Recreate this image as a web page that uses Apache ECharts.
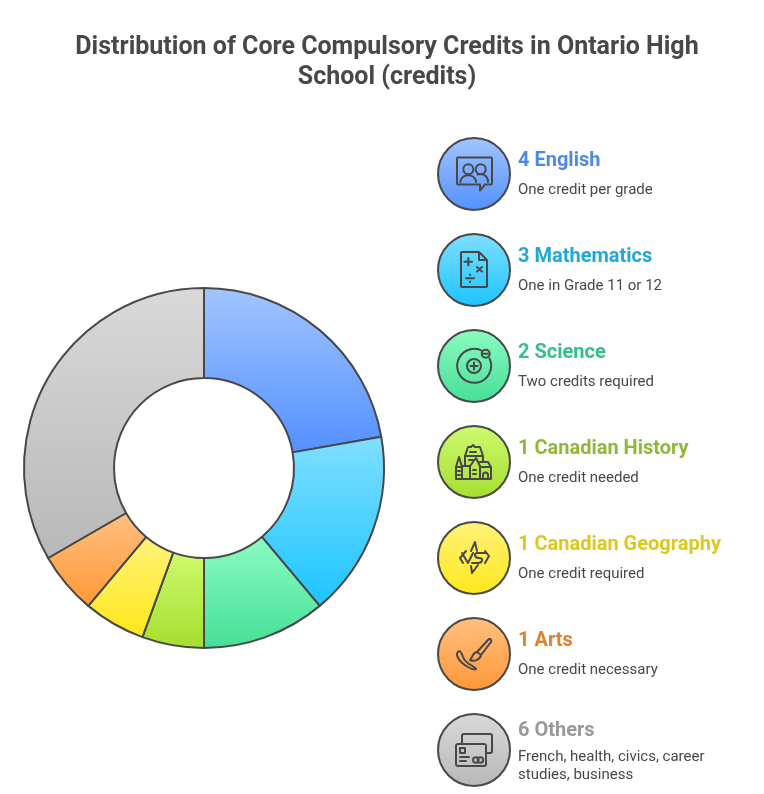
<!DOCTYPE html>
<html>
<head>
<meta charset="utf-8">
<style>
  html, body { margin: 0; padding: 0; background: #fff; }
  #chart { width: 764px; height: 794px; }
</style>
<script src="https://cdn.jsdelivr.net/npm/echarts@6/dist/echarts.min.js"></script>
</head>
<body>
<div id="chart"></div>
<script>
const chartTitle = "Distribution of Core Compulsory Credits in Ontario High\nSchool (credits)";
const subjects = ["English", "Mathematics", "Science", "Canadian History", "Canadian Geography", "Arts", "Others"];
const credits = [4, 3, 2, 1, 1, 1, 6];
const notes = [
  "One credit per grade",
  "One in Grade 11 or 12",
  "Two credits required",
  "One credit needed",
  "One credit required",
  "One credit necessary",
  "French, health, civics, career\nstudies, business"
];

const gradientTop = ["#a2c5ff", "#80dfff", "#8bfbc2", "#cffa6e", "#fff27a", "#ffc080", "#d9d9d9"];
const gradientBottom = ["#5390ff", "#1cc4ff", "#45df96", "#a4de2e", "#ffe81a", "#ff9838", "#b8b8b8"];
const labelColors = ["#4e88e8", "#1fa8d8", "#35c088", "#90b838", "#ddc81e", "#e0812e", "#999999"];

const ink = "#484848";

// icons are drawn around 0,0 (the middle of the circle)
const icons = [
  // speech bubble with two people
  "M-16,-16.5 H17 Q18,-16.5 18,-15.5 V9.5 Q18,10.5 17,10.5 H11 L6,16.5 V10.5 H-16 Q-17,10.5 -17,9.5 V-15.5 Q-17,-16.5 -16,-16.5 Z " +
  "M-10.7,-4.7 A5,5 0 1 1 -0.7,-4.7 A5,5 0 1 1 -10.7,-4.7 Z " +
  "M1.7,-4.7 A5,5 0 1 1 11.7,-4.7 A5,5 0 1 1 1.7,-4.7 Z " +
  "M-13.5,8 C-13.5,-1 2,-1 2,8 M3.5,0.5 C9,-1 14,2 14,8",
  // sheet with maths signs
  "M-12,-18 H5 L13,-10 V16 Q13,17 12,17 H-12 Q-13,17 -13,16 V-17 Q-13,-18 -12,-18 Z M5,-18 V-10 H13 " +
  "M-9.5,-8.3 H-2 M-5.7,-12 V-4.5 M3,-3 L8,1.5 M8,-3 L3,1.5 " +
  "M-8,8.3 H0 M-4,4.6 V5 M-4,11.6 V12",
  // atom
  "M8.5,-15 A17,17 0 1 0 15.5,-7.5 " +
  "M-7,0 A7,7 0 1 1 7,0 A7,7 0 1 1 -7,0 Z M-3.5,0 H3.5 M0,-3.5 V3.5 " +
  "M7.7,-12.3 A4,4 0 1 1 15.7,-12.3 A4,4 0 1 1 7.7,-12.3 Z M9.7,-12.3 H13.7",
  // town houses
  "M-18,17 H17 M-18,17 V5 L-15,-5 L-12,5 V17 M-18,5 H-12 " +
  "M-12,4 H-4 M-4,17 V4 L2,-4 L6,4 V17 M6,0 H14 L17,5 V17 M6,5 H17 " +
  "M-9,4 V-6 L-6,-15 H-3 L-1,-17 L1,-15 H6 L9,-6 V0 M-9,-6 H9 " +
  "M-4,-10 H2 M-5,-2 H-1 M-1,8 H2 M-1,12 H2 M-16,9 H-14 M-16,13 H-14 M9,17 V13 A2.5,2.5 0 0 1 14,13 V17",
  // star with VS
  "M-3,-7 L1,-16 L3,-7 M-3,8 L-2,15 L4,7 " +
  "M-8,-7 L-14,0 L-11,5 M11,-7 L15,-2 L11,5 " +
  "M-12,-5 L-6,5 L-1,-5 M11,-5 H4 Q0,-5 1,-2 Q2,0 5,0 Q9,0 8,3 Q7,5 4,5 H-2",
  // brush and bowl
  "M16,-15 Q18,-14 17,-12 L7,1 L3,-2 L14,-14 Q15,-15.5 16,-15 Z " +
  "M3,-2 C-2,-1 -1,3 -4,6 C0,8 6,6 7,1 " +
  "M-15,-3 C-20,0 -15,8 -6,13 C-2,15.5 1,15.5 2,15 C0,11 -8,11 -11,3 C-12,0 -13,-3 -15,-3 Z",
  // cards
  "M-12,-6 V-14 Q-12,-16 -10,-16 H16 Q18,-16 18,-14 V1 Q18,3 16,3 H13 " +
  "M-16,-6 H10 Q12,-6 12,-4 V14 Q12,16 10,16 H-16 Q-18,16 -18,14 V-4 Q-18,-6 -16,-6 Z " +
  "M-14,-2 H-9 V3 H-14 Z M-14,7 H-5 M-14,11 H-8 " +
  "M-1,10 A2.8,2.8 0 1 1 4.6,10 A2.8,2.8 0 1 1 -1,10 Z M3.6,10 A2.8,2.8 0 1 1 9.2,10 A2.8,2.8 0 1 1 3.6,10 Z"
];

// the graphic component has no plain path type, so register each icon as a shape
icons.forEach((d, i) => {
  echarts.graphic.registerShape("icon" + i, echarts.graphic.extendPath(d, {}));
});

function gradient(i) {
  return new echarts.graphic.LinearGradient(0, 0, 0, 1, [
    { offset: 0, color: gradientTop[i] },
    { offset: 1, color: gradientBottom[i] }
  ]);
}

const rows = subjects.map((name, i) => {
  const y = 174 + 96 * i;
  const twoLines = notes[i].indexOf("\n") >= 0;
  return {
    type: "group",
    x: 474,
    y: y,
    silent: true,
    children: [
      {
        type: "circle",
        shape: { cx: 0, cy: 0, r: 36 },
        style: { fill: gradient(i), stroke: ink, lineWidth: 2 }
      },
      {
        type: "icon" + i,
        style: { fill: "none", stroke: ink, lineWidth: 2, lineJoin: "round", lineCap: "round" }
      },
      {
        type: "text",
        x: 44,
        y: twoLines ? -19 : -13,
        style: {
          text: credits[i] + " " + name,
          fill: labelColors[i],
          font: "bold 20px Roboto",
          verticalAlign: "middle"
        }
      },
      {
        type: "text",
        x: 44,
        y: 16,
        style: {
          text: notes[i],
          fill: ink,
          font: "15px Roboto",
          lineHeight: 18,
          verticalAlign: "middle"
        }
      }
    ]
  };
});

const myChart = echarts.init(document.getElementById("chart"));
myChart.setOption({
  animation: false,
  backgroundColor: "#ffffff",
  title: {
    text: chartTitle,
    left: 382,
    top: 28,
    textAlign: "center",
    textStyle: {
      fontFamily: "Roboto",
      fontWeight: "bold",
      fontSize: 25,
      lineHeight: 30,
      color: ink
    }
  },
  series: [
    {
      type: "pie",
      center: [204, 468],
      radius: [90, 180],
      startAngle: 90,
      clockwise: true,
      silent: true,
      label: { show: false },
      labelLine: { show: false },
      itemStyle: { borderColor: ink, borderWidth: 2 },
      data: subjects.map((name, i) => ({
        name: name,
        value: credits[i],
        itemStyle: { color: gradient(i) }
      }))
    }
  ],
  graphic: { elements: rows }
});
</script>
</body>
</html>
